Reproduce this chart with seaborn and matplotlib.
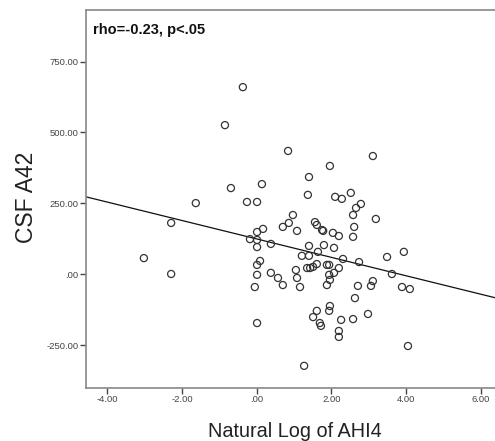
import numpy as np
import matplotlib
matplotlib.use('Agg')
import matplotlib.pyplot as plt
import seaborn as sns
import pandas as pd

# values (x = ln AHI4, y = CSF A42)
ahi_log = [
    -2.29, -3.02, -2.29, -1.63, -0.85, -0.37, -0.69, 0.14, -0.26, 0.01,
    0.84, 3.11, 1.96, 1.40, 1.37, 2.10, 2.28, 2.52, 2.79, 2.66,
    2.58, 0.97, 3.19, 0.86, 0.70, 1.56, 1.61, 2.61, 0.17, 0.01,
    -0.18, 0.01, 0.01, 0.38, 1.08, 1.75, 1.78, 2.04, 2.20, 2.58,
    1.40, 1.80, 2.07, 1.64, 1.21, 1.40, 2.31, 2.74, 3.49, 3.94,
    0.09, 0.01, 1.61, 1.88, 1.94, 2.20, 1.35, 1.43, 1.51, 1.05,
    2.07, 3.62, 0.01, 0.38, 0.57, 0.70, 1.08, 1.16, 1.94, 1.96,
    1.88, 3.11, 3.06, 2.71, -0.05, 3.89, 4.10, 2.63, 1.96, 1.94,
    1.61, 1.51, 2.26, 2.58, 2.98, 1.69, 1.72, 2.20, 2.20, 0.01,
    4.05, 1.27,
]
csf_a42 = [
    181, 57, 1, 251, 526, 660, 304, 318, 255, 255,
    435, 417, 382, 343, 280, 273, 266, 287, 248, 234,
    209, 209, 195, 181, 167, 184, 174, 167, 160, 149,
    124, 121, 96, 107, 153, 156, 153, 146, 135, 132,
    100, 103, 93, 79, 65, 65, 54, 43, 61, 79,
    47, 33, 36, 33, 33, 22, 22, 22, 26, 15,
    5, 1, -2, 5, -13, -38, -13, -45, -2, -20,
    -38, -24, -41, -41, -45, -45, -52, -84, -112, -129,
    -129, -151, -161, -158, -140, -172, -182, -200, -221, -172,
    -253, -323,
]

x_ticks = [-4, -2, 0, 2, 4, 6]
x_tick_labels = ['-4.00', '-2.00', '.00', '2.00', '4.00', '6.00']
y_ticks = [-250, 0, 250, 500, 750]
y_tick_labels = ['-250.00', '.00', '250.00', '500.00', '750.00']
annotation = 'rho=-0.23, p<.05'

df = pd.DataFrame({'x': ahi_log, 'y': csf_a42})

sns.set_style('white')
plt.rcParams['font.family'] = ['Liberation Sans', 'DejaVu Sans']

fig = plt.figure(figsize=(4.95, 4.41), dpi=100)
ax = fig.add_axes([0.1737, 0.1209, 0.8263, 0.8564])
ax.set_xlim(-4.57, 6.38)
ax.set_ylim(-400, 932)

# fit line over the full axis width, like the SPSS total fit line
sns.regplot(data=df, x='x', y='y', ax=ax, scatter=False, ci=None,
            truncate=False, line_kws={'color': '#111111', 'lw': 0.9})
sns.scatterplot(data=df, x='x', y='y', ax=ax, s=26, facecolor='none',
                edgecolor='#333333', linewidth=0.9, zorder=3)

ax.set_xticks(x_ticks)
ax.set_xticklabels(x_tick_labels)
ax.set_yticks(y_ticks)
ax.set_yticklabels(y_tick_labels)
ax.tick_params(axis='both', direction='out', length=4, width=1.0,
               color='#444444', labelsize=6.8, labelcolor='#444444', pad=1.5,
               bottom=True, left=True)

for side in ['left', 'bottom', 'top']:
    ax.spines[side].set_color('#888888')
    ax.spines[side].set_linewidth(1.2)
ax.spines['right'].set_visible(False)

ax.set_xlabel('')
ax.set_ylabel('')
fig.text(0.596, 0.009, 'Natural Log of AHI4', fontsize=14.3, color='#222222',
         ha='center', va='baseline')
fig.text(0.053, 0.553, 'CSF A42', fontsize=16.5, color='#222222',
         rotation=90, ha='center', va='center')
ax.text(0.017, 0.948, annotation, transform=ax.transAxes, fontsize=10.5,
        fontweight='bold', color='#111111', ha='left', va='center')

fig.savefig('out.png', dpi=100)
